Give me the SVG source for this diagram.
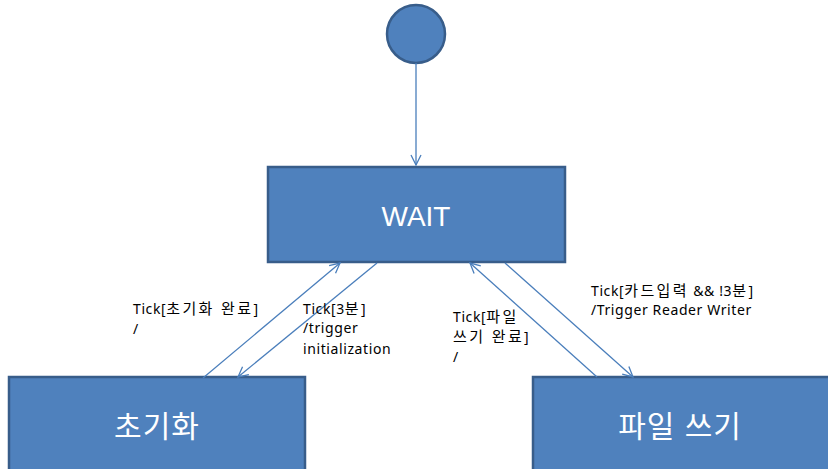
<svg xmlns="http://www.w3.org/2000/svg" width="828" height="469" viewBox="0 0 828 469">
<style>
.node{fill:#4F81BD;stroke:#385D8A;stroke-width:2.5}
.ntxt{fill:#ffffff;font-family:"Liberation Sans","Noto Sans CJK KR",sans-serif;font-size:28px;text-anchor:middle}
.kt{font-size:30px;letter-spacing:1px}
.conn{stroke:#4A7EBB;stroke-width:1.3;fill:none;marker-end:url(#arr)}
.lbl{fill:#000;font-family:"Noto Sans","Noto Sans CJK KR",sans-serif;font-size:14px;letter-spacing:0.6px}
.k{font-size:15px;letter-spacing:2.4px}
</style>
<defs>
<marker id="arr" viewBox="0 0 12 12" refX="11" refY="6" markerWidth="12" markerHeight="12" markerUnits="userSpaceOnUse" orient="auto">
<path d="M1,1 L11,6 L1,11" fill="none" stroke="#4A7EBB" stroke-width="1.3"/>
</marker>
</defs>
<rect width="828" height="469" fill="#ffffff"/>
<g id="start"><circle cx="416" cy="34" r="29" class="node"/></g>
<g id="wait"><rect x="268" y="167" width="297" height="95" class="node"/><text x="416" y="226" class="ntxt">WAIT</text></g>
<g id="init"><rect x="9" y="377" width="296" height="110" class="node"/><text x="157" y="437" class="ntxt kt">초기화</text></g>
<g id="write"><rect x="533" y="377" width="297" height="110" class="node"/><text x="680" y="437" class="ntxt kt">파일 쓰기</text></g>
<g id="connectors">
<line x1="416" y1="63" x2="416" y2="165" class="conn"/>
<line x1="203" y1="378" x2="340" y2="263" class="conn"/>
<line x1="377" y1="263" x2="238" y2="377" class="conn"/>
<line x1="597" y1="377" x2="470" y2="263" class="conn"/>
<line x1="505" y1="263" x2="633" y2="377" class="conn"/>
</g>
<g id="labels">
<text class="lbl" x="133" y="314">Tick[<tspan class="k">초기화 완료</tspan>]</text>
<text class="lbl" x="133" y="334">/</text>
<text class="lbl" x="303" y="314">Tick[3<tspan class="k">분</tspan>]</text>
<text class="lbl" x="303" y="333">/trigger</text>
<text class="lbl" x="303" y="354">initialization</text>
<text class="lbl" x="453" y="322">Tick[<tspan class="k">파일</tspan></text>
<text class="lbl" x="453" y="342"><tspan class="k">쓰기 완료</tspan>]</text>
<text class="lbl" x="453" y="362">/</text>
<text class="lbl" x="591" y="296">Tick[<tspan class="k">카드입력</tspan> &amp;&amp; !3<tspan class="k">분</tspan>]</text>
<text class="lbl" x="591" y="315">/Trigger Reader Writer</text>
</g>
</svg>
